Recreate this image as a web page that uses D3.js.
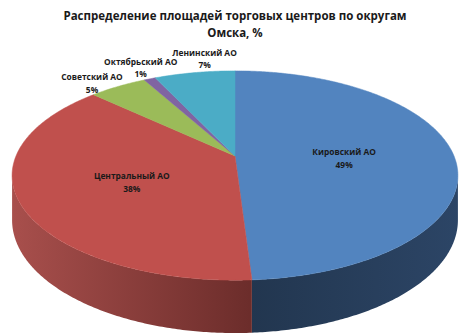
<!DOCTYPE html>
<html>
<head>
<meta charset="utf-8">
<script src="https://cdn.jsdelivr.net/npm/d3@7"></script>
<style>
  body { margin: 0; background: #fff; }
  text { font-family: "Open Sans", "Noto Sans", sans-serif; font-weight: bold; fill: #1a1a1a; }
</style>
</head>
<body>
<div id="chart"></div>
<script>
// data
var categories = ["Кировский АО", "Центральный АО", "Советский АО", "Октябрьский АО", "Ленинский АО"];
var values = [49, 38, 5, 1, 7];
var pctLabels = ["49%", "38%", "5%", "1%", "7%"];
var titleLines = ["Распределение площадей торговых центров по округам", "Омска, %"];

var colors = ["#5284BF", "#C0504D", "#9BBB59", "#8064A2", "#4BACC6"];

var W = 472, H = 334;
// 3d pie geometry (simple perspective of a tilted disk)
var cx = 235, cy = 156, a = 219, b = 101, p = 0.1866, depth = 43;

var svg = d3.select("#chart").append("svg")
  .attr("width", W).attr("height", H);

var defs = svg.append("defs");
function sideGrad(id, x1, x2, c1, c2) {
  var g = defs.append("linearGradient").attr("id", id)
    .attr("gradientUnits", "userSpaceOnUse")
    .attr("x1", x1).attr("x2", x2).attr("y1", 0).attr("y2", 0);
  g.append("stop").attr("offset", 0).attr("stop-color", c1);
  g.append("stop").attr("offset", 1).attr("stop-color", c2);
}
sideGrad("side0", 250, 460, "#22364f", "#2c4566");
sideGrad("side1", 12, 250, "#a84f4c", "#6c2d2b");
sideGrad("side2", 12, 250, "#7d9a45", "#5e7534");
sideGrad("side3", 12, 250, "#66508a", "#4c3b68");
sideGrad("side4", 12, 250, "#3b8ba0", "#2c6878");

function proj(t, r) {
  var s = 1 / (1 + p * r * Math.cos(t));
  return [cx + a * r * Math.sin(t) * s, cy - b * r * Math.cos(t) * s];
}
function projBottom(t) {
  var pt = proj(t, 1);
  var s = 1 / (1 + p * Math.cos(t));
  return [pt[0], pt[1] + depth * s];
}
function arcPts(a0, a1, f) {
  var n = Math.max(2, Math.ceil(Math.abs(a1 - a0) / 0.01));
  var out = [];
  for (var i = 0; i <= n; i++) out.push(f(a0 + (a1 - a0) * i / n));
  return out;
}

var pie = d3.pie().sort(null).value(function(d) { return d; });
var arcs = pie(values);
var line = d3.line();

// visible side range (silhouette)
var vs = Math.acos(-p), ve = 2 * Math.PI - vs;

// sides
arcs.forEach(function(d, i) {
  var s0 = Math.max(d.startAngle, vs), s1 = Math.min(d.endAngle, ve);
  if (s1 <= s0) return;
  var top = arcPts(s0, s1, function(t) { return proj(t, 1); });
  var bot = arcPts(s1, s0, projBottom);
  svg.append("path")
    .attr("d", line(top.concat(bot)) + "Z")
    .attr("fill", "url(#side" + i + ")");
});

// top surface
arcs.forEach(function(d, i) {
  var pts = [proj(0, 0)].concat(arcPts(d.startAngle, d.endAngle, function(t) { return proj(t, 1); }));
  svg.append("path")
    .attr("d", line(pts) + "Z")
    .attr("fill", colors[i])
    .attr("stroke", colors[i]).attr("stroke-width", 0.5);
});

// labels
var inside = [true, true, false, false, false];
var nudge = [[0, 0], [0, 0], [-26, -3], [-9, -11], [10, -14]];
var lab = svg.append("g").style("font-size", "8.4px").attr("text-anchor", "middle");
arcs.forEach(function(d, i) {
  var mid = (d.startAngle + d.endAngle) / 2;
  var c = inside[i] ? proj(mid, 0.5) : proj(mid, 1);
  var x = c[0] + nudge[i][0], y = c[1] + nudge[i][1];
  var y1 = inside[i] ? y + 1 : y - 3;
  lab.append("text").attr("x", x).attr("y", y1).text(categories[i]);
  lab.append("text").attr("x", x).attr("y", y1 + 12.3).text(pctLabels[i]);
});

// title
var title = svg.append("g").attr("text-anchor", "middle").style("font-size", "11.5px");
title.append("text").attr("x", 235).attr("y", 19.5).text(titleLines[0]);
title.append("text").attr("x", 235).attr("y", 36.5).text(titleLines[1]);
</script>
</body>
</html>
